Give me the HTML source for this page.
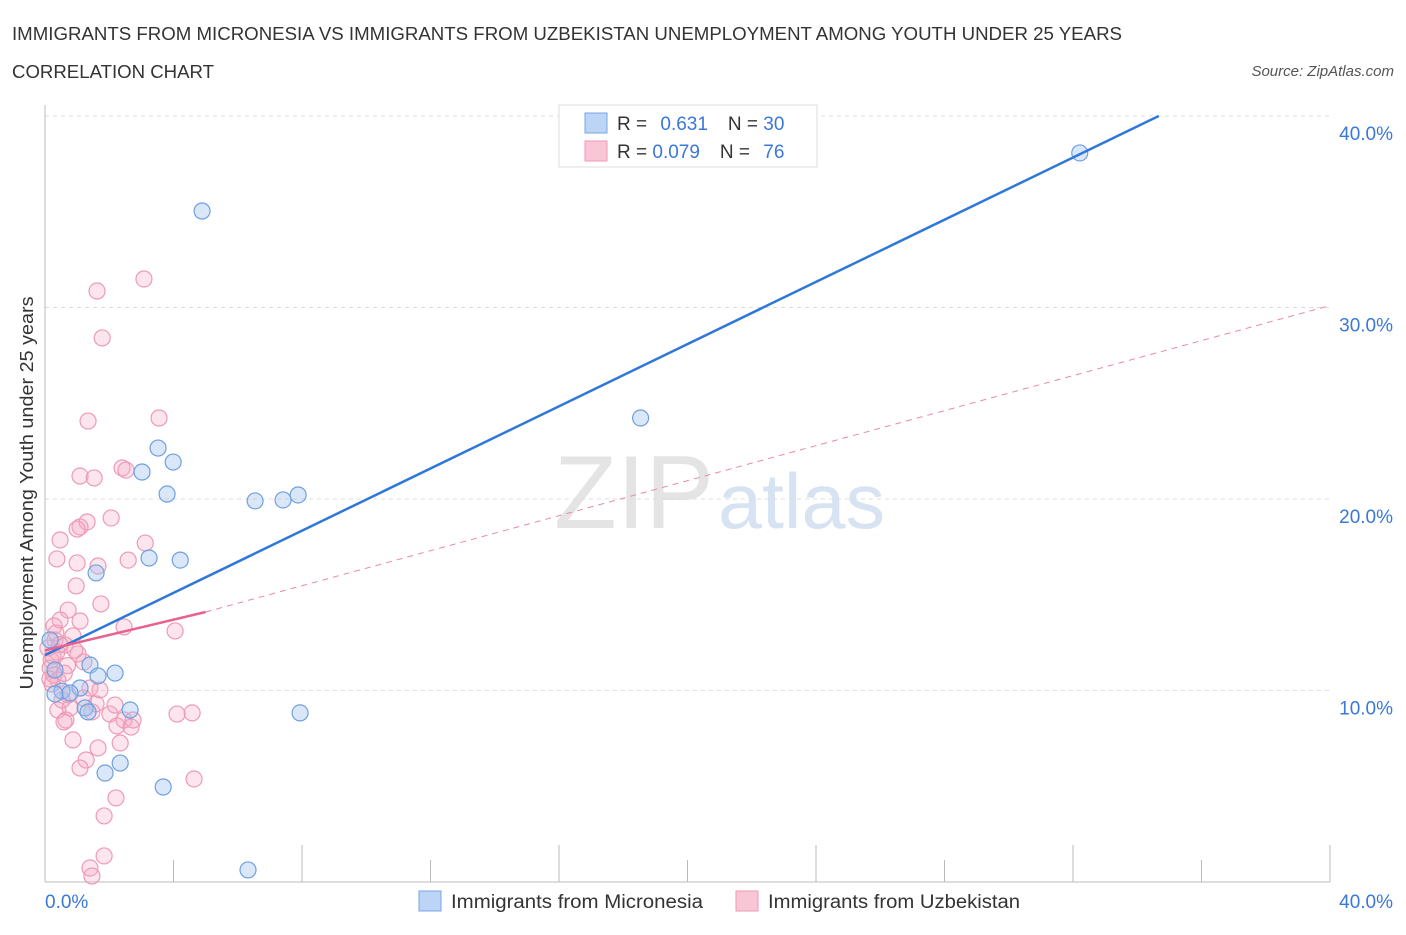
<!DOCTYPE html>
<html><head><meta charset="utf-8"><style>
body{margin:0;background:#fff;font-family:"Liberation Sans",sans-serif;}
svg text{font-family:"Liberation Sans",sans-serif;}
</style></head><body>
<svg id="chart" width="1406" height="930">
<text x="12" y="40" font-size="18" fill="#333" textLength="1110" lengthAdjust="spacingAndGlyphs">IMMIGRANTS FROM MICRONESIA VS IMMIGRANTS FROM UZBEKISTAN UNEMPLOYMENT AMONG YOUTH UNDER 25 YEARS</text>
<text x="12" y="78" font-size="18" fill="#333" textLength="202" lengthAdjust="spacingAndGlyphs">CORRELATION CHART</text>
<text x="1394" y="76" font-size="15" fill="#555" text-anchor="end" font-style="italic">Source: ZipAtlas.com</text>
<text x="0" y="0" transform="translate(33,493) rotate(-90)" font-size="18" fill="#333" text-anchor="middle" textLength="393" lengthAdjust="spacingAndGlyphs">Unemployment Among Youth under 25 years</text>
<g>
<text x="554" y="528" font-size="104" fill="#e4e4e4" font-family="Liberation Serif,serif" textLength="160" lengthAdjust="spacingAndGlyphs">ZIP</text>
<text x="718" y="528" font-size="78" fill="#d7e3f3" textLength="167" lengthAdjust="spacingAndGlyphs">atlas</text>
</g>
<g id="grid"></g><g id="axes"></g><g id="marks"></g>
<g>
<rect x="559" y="105" width="258" height="62" fill="#fff" stroke="#ddd"/>
<rect x="585" y="113" width="22" height="20" fill="#bcd4f6" stroke="#7aa6e6"/>
<rect x="585" y="141" width="22" height="20" fill="#f9c6d5" stroke="#ef9ab4"/>
<text x="617" y="130" font-size="19" fill="#333">R = <tspan fill="#3a78d8" dx="8">0.631</tspan><tspan dx="20" fill="#333">N = </tspan><tspan fill="#3a78d8">30</tspan></text>
<text x="617" y="158" font-size="19" fill="#333">R = <tspan fill="#3a78d8">0.079</tspan><tspan dx="20" fill="#333">N = </tspan><tspan fill="#3a78d8" dx="8">76</tspan></text>
</g>
<g>
<rect x="419" y="891" width="22" height="20" fill="#bcd4f6" stroke="#7aa6e6"/>
<text x="451" y="908" font-size="19" fill="#333" textLength="252" lengthAdjust="spacingAndGlyphs">Immigrants from Micronesia</text>
<rect x="736" y="891" width="22" height="20" fill="#f9c6d5" stroke="#ef9ab4"/>
<text x="768" y="908" font-size="19" fill="#333" textLength="252" lengthAdjust="spacingAndGlyphs">Immigrants from Uzbekistan</text>
</g>
</svg>
<script>
const yTicks=[10,20,30,40];
const yTickLabels=["10.0%","20.0%","30.0%","40.0%"];
const xTicks=[0,4,8,12,16,20,24,28,32,36,40];
const blueX=[4.89,32.21,18.54,3.52,3.99,3.02,3.80,6.54,7.41,7.88,3.24,4.21,1.59,1.40,2.18,1.65,1.09,0.53,0.31,0.78,1.25,2.65,7.94,1.34,2.34,1.87,3.68,6.32,0.16,0.31];
const blueY=[35.04,38.07,24.23,22.66,21.93,21.41,20.26,19.90,19.95,20.21,16.92,16.81,16.14,11.33,10.91,10.76,10.13,9.97,9.82,9.87,9.09,8.98,8.83,8.88,6.21,5.69,4.96,0.63,12.64,11.07];
const pinkX=[3.08,1.62,1.78,3.55,1.34,2.40,2.52,1.09,1.53,2.06,1.31,1.09,1.00,0.47,3.12,0.37,2.59,1.00,1.65,0.97,1.74,0.72,0.47,1.09,2.46,4.05,0.28,0.87,0.31,0.62,0.09,0.37,1.03,0.19,1.21,0.16,0.28,0.40,0.22,1.40,0.72,1.59,0.40,0.78,1.46,0.65,0.59,2.02,4.11,4.58,2.46,2.24,2.74,2.68,0.87,2.34,1.65,1.28,1.09,4.64,2.21,1.84,1.84,1.40,1.46,0.53,0.93,0.34,1.71,2.18,0.25,0.60,1.20,0.45,0.15,0.70];
const pinkY=[31.49,30.86,28.41,24.23,24.07,21.62,21.51,21.20,21.10,19.01,18.80,18.54,18.43,17.86,17.70,16.87,16.81,16.66,16.50,15.46,14.52,14.20,13.68,13.63,13.32,13.11,13.37,12.85,12.64,12.38,12.22,12.01,11.91,11.59,11.49,11.17,10.81,10.55,10.34,10.13,9.77,9.30,8.98,9.09,8.88,8.46,8.36,8.77,8.77,8.83,8.46,8.15,8.46,8.09,7.42,7.26,7.00,6.37,5.95,5.38,4.39,3.45,1.36,0.73,0.31,9.50,12.11,13.00,10.03,9.24,11.8,10.9,9.6,12.4,10.6,11.3];
const blueLine=[[0,11.85],[34.67,40]];
const pinkSolid=[[0,12.1],[5,14.1]];
const pinkDash=[[5,14.1],[40,30.1]];
const sx=v=>45+v*32.125, sy=v=>882-v*19.15;
const NS="http://www.w3.org/2000/svg";
function mk(tag,attrs,parent){const e=document.createElementNS(NS,tag);for(const k in attrs)e.setAttribute(k,attrs[k]);document.getElementById(parent).appendChild(e);return e;}
yTicks.forEach((t,i)=>{
 const l=mk('line',{x1:45,x2:1330,y1:sy(t),y2:sy(t),stroke:'#ddd','stroke-dasharray':'4,4'},'grid');
 
 
 const tx=mk('text',{x:1393,y:sy(t)+24,'font-size':19,fill:'#3a78d8','text-anchor':'end'},'axes');
 tx.textContent=yTickLabels[i];
 
 
});
const xa=mk('line',{x1:45,x2:1330,y1:882,y2:882,stroke:'#bbb'},'axes');


const ya=mk('line',{x1:45,x2:45,y1:105,y2:882,stroke:'#bbb'},'axes');


xTicks.forEach(t=>{
 const l=mk('line',{x1:sx(t),x2:sx(t),y1:(t%8===0?845:860),y2:882,stroke:'#bbb'},'axes');
 
 
});
const xl0=mk('text',{x:45,y:908,'font-size':19,fill:'#3a78d8'},'axes');xl0.textContent='0.0%';


const xl1=mk('text',{x:1393,y:908,'font-size':19,fill:'#3a78d8','text-anchor':'end'},'axes');xl1.textContent='40.0%';


pinkX.forEach((x,i)=>{
 const c=mk('circle',{cx:sx(x),cy:sy(pinkY[i]),r:8,fill:'rgba(246,170,195,0.3)',stroke:'#ee9ab5','stroke-width':1.2},'marks');
 
 
});
blueX.forEach((x,i)=>{
 const c=mk('circle',{cx:sx(x),cy:sy(blueY[i]),r:8,fill:'rgba(160,195,240,0.4)',stroke:'#6f9fe0','stroke-width':1.2},'marks');
 
 
});
const pd=mk('line',{x1:sx(pinkDash[0][0]),y1:sy(pinkDash[0][1]),x2:sx(pinkDash[1][0]),y2:sy(pinkDash[1][1]),stroke:'#e88aa8','stroke-width':1,'stroke-dasharray':'6,5'},'marks');


const bl=mk('line',{x1:sx(blueLine[0][0]),y1:sy(blueLine[0][1]),x2:sx(blueLine[1][0]),y2:sy(blueLine[1][1]),stroke:'#2f78d8','stroke-width':2.5},'marks');


const ps=mk('line',{x1:sx(pinkSolid[0][0]),y1:sy(pinkSolid[0][1]),x2:sx(pinkSolid[1][0]),y2:sy(pinkSolid[1][1]),stroke:'#e8628e','stroke-width':2.5},'marks');


</script>
</body></html>
